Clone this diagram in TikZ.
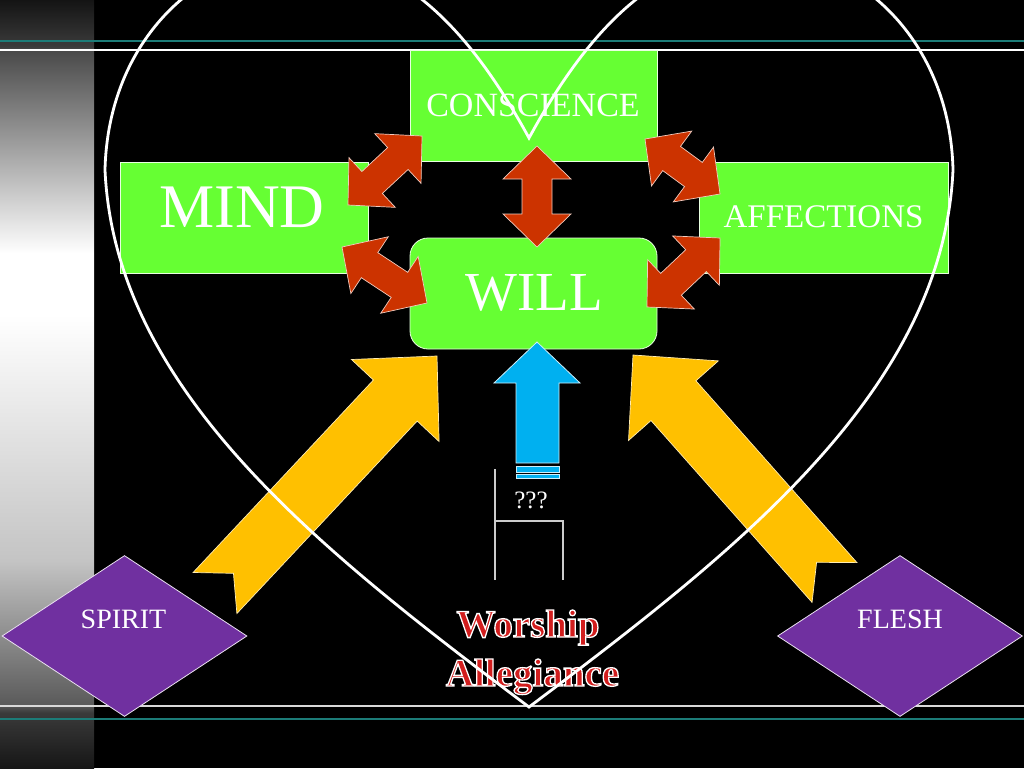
\documentclass[tikz,border=0pt]{standalone}
\usepackage{fontspec}
\setmainfont{Liberation Serif}
\usetikzlibrary{calc,shapes.geometric}
\definecolor{grn}{HTML}{66FF33}
\definecolor{redA}{HTML}{CC3300}
\definecolor{yelA}{HTML}{FFC000}
\definecolor{bluA}{HTML}{00B0F0}
\definecolor{purA}{HTML}{7030A0}
\definecolor{tealA}{HTML}{1C7C78}
\definecolor{wred}{HTML}{D21E1E}
\definecolor{gA}{HTML}{141414}
\definecolor{gB}{HTML}{3A3A3A}
\definecolor{gC}{HTML}{4A4A4A}
\definecolor{gD}{HTML}{FFFFFF}
\definecolor{gE}{HTML}{C4C4C4}
\definecolor{gF}{HTML}{5A5A5A}
\definecolor{gG}{HTML}{3A3A3A}
\definecolor{gH}{HTML}{161616}
\pgfdeclareverticalshading{barshade}{100bp}{color(0bp)=(gH); color(25bp)=(gH); color(28.6bp)=(gG); color(29.1bp)=(gF); color(38.5bp)=(gE); color(54.5bp)=(gD); color(58.5bp)=(gD); color(71.7bp)=(gC); color(72bp)=(gB); color(75bp)=(gA); color(100bp)=(gA)}
\newcommand\dblblock[2]{%
  \coordinate (hA) at ($(#1)!33pt!(#2)$);
  \coordinate (hB) at ($(#2)!33pt!(#1)$);
  \filldraw[redblk] (#1) -- ($(hA)!34pt!90:(#2)$) -- ($(hA)!15pt!90:(#2)$)
    -- ($(hB)!15pt!-90:(#1)$) -- ($(hB)!34pt!-90:(#1)$) -- (#2)
    -- ($(hB)!34pt!90:(#1)$) -- ($(hB)!15pt!90:(#1)$)
    -- ($(hA)!15pt!-90:(#2)$) -- ($(hA)!34pt!-90:(#2)$) -- cycle;}
\newcommand\ribbonarrow[2]{%
  \coordinate (yH) at ($(#2)!61pt!(#1)$);
  \coordinate (yN) at ($(#1)!27pt!(#2)$);
  \filldraw[yelblk] (#2) -- ($(yH)!60pt!90:(#2)$) -- ($(yH)!30pt!90:(#2)$)
    -- ($(#1)!30pt!90:(#2)$) -- (yN) -- ($(#1)!30pt!-90:(#2)$)
    -- ($(yH)!30pt!-90:(#2)$) -- ($(yH)!60pt!-90:(#2)$) -- cycle;}
\newcommand\outlined[1]{\special{pdf:literal direct 2 Tr 1 1 1 RG 1.3 w}#1\special{pdf:literal direct 0 Tr}}
\begin{document}
\begin{tikzpicture}[x=1pt,y=-1pt,
  greenbox/.style={rectangle, fill=grn, draw=white!85!grn, line width=0.8pt, inner sep=0pt, minimum width=248pt, minimum height=111pt},
  redblk/.style={fill=redA, draw=white!75!redA, line width=0.7pt, line join=miter},
  yelblk/.style={fill=yelA, draw=white!70!yelA, line width=0.7pt},
  blublk/.style={fill=bluA, draw=white!80!bluA, line width=0.8pt},
  diam/.style={diamond, fill=purA, draw=white!85!purA, line width=0.8pt, inner sep=0pt, minimum width=245pt, minimum height=161pt},
  lbl/.style={text=white, anchor=base, inner sep=0pt},
  brk/.style={draw=white!80!black, line width=1.1pt},
  wtxt/.style={anchor=base, inner sep=0pt, text=wred, font=\bfseries\fontsize{39}{44}\selectfont}
]
\useasboundingbox (0,0) rectangle (1024,768);
\fill[black] (0,0) rectangle (1024,768);
% left gradient bar
\shade[shading=barshade] (0,0) rectangle (94,768);
% template lines
\draw[tealA, line width=2pt] (0,41) -- (1024,41);
\draw[white, line width=1.7pt] (0,50) -- (1024,50);
\draw[white!85!black, line width=1.5pt] (0,706) -- (1024,706);
\draw[tealA, line width=2pt] (0,719) -- (1024,719);
% green boxes
\node[greenbox, minimum width=247pt] (consc) at (533.5,105.5) {};
\node[greenbox] (mind) at (244,217.5) {};
\node[greenbox, minimum width=249pt] (affect) at (823.5,217.5) {};
\node[greenbox, minimum width=247pt, rounded corners=18pt] (will) at (533.5,293.5) {};
\node[lbl, font=\fontsize{34}{40}\selectfont] (tconsc) at (533,116) {CONSCIENCE};
\node[lbl, font=\fontsize{62}{70}\selectfont] (tmind) at (242,227) {MIND};
\node[lbl, font=\fontsize{33}{40}\selectfont] (taffect) at (823.5,227) {AFFECTIONS};
\node[lbl, font=\fontsize{55}{62}\selectfont] (twill) at (534,310) {WILL};
% red double arrows
\coordinate (v1) at (537,146); \coordinate (v2) at (537,247);
\coordinate (mc1) at (348,205); \coordinate (mc2) at (422,136);
\coordinate (mw1) at (342,247); \coordinate (mw2) at (427,303);
\coordinate (ca1) at (645,139); \coordinate (ca2) at (720,194);
\coordinate (wa1) at (647,307); \coordinate (wa2) at (720,238);
\dblblock{v1}{v2}
\dblblock{mc1}{mc2}
\dblblock{mw1}{mw2}
\dblblock{ca1}{ca2}
\dblblock{wa1}{wa2}
% yellow arrows
\coordinate (spTail) at (215,593); \coordinate (spTip) at (437,356);
\coordinate (flTail) at (834.5,582.5); \coordinate (flTip) at (633,355);
\ribbonarrow{spTail}{spTip}
\ribbonarrow{flTail}{flTip}
% blue arrow
\filldraw[blublk] (537,342) -- (580,383) -- (559,383) -- (559,463) -- (516,463) -- (516,383) -- (494,383) -- cycle;
\filldraw[blublk] (516,466.5) rectangle (559,472);
\filldraw[blublk] (516,474.5) rectangle (559,478);
% bracket
\draw[brk] (495,469) -- (495,580);
\draw[brk] (495,521) -- (563,521) -- (563,580);
\node[lbl, font=\fontsize{25}{30}\selectfont] (qq) at (531,508) {???};
% diamonds
\node[diam] (spirit) at (124.5,636) {};
\node[diam] (flesh) at (900,636) {};
\node[lbl, font=\fontsize{28}{34}\selectfont] (tspirit) at (123.5,628) {SPIRIT};
\node[lbl, font=\fontsize{28}{34}\selectfont] (tflesh) at (900,628) {FLESH};
% worship text
\node[wtxt] (worship) at (528,637) {\outlined{Worship}};
\node[wtxt] (alleg) at (532.5,686) {\outlined{Allegiance}};
% heart
\draw[white, line width=2.8pt, line join=miter]
  (529,707) .. controls (320,550) and (115,390) .. (105,170)
  .. controls (108,40) and (200,-45) .. (300,-45)
  .. controls (400,-45) and (470,30) .. (529,138)
  .. controls (588,30) and (658,-45) .. (758,-45)
  .. controls (858,-45) and (950,40) .. (953,170)
  .. controls (943,390) and (738,550) .. (529,707) -- cycle;
\end{tikzpicture}
\end{document}
